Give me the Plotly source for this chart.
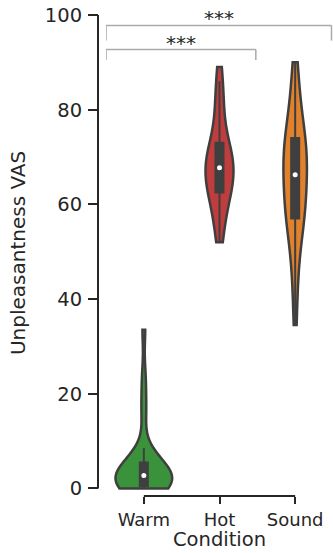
import numpy as np
import plotly.graph_objects as go

# ---------------- data ----------------
categories = ["Warm", "Hot", "Sound"]
warm_vals = [0, 0, 0, 0, 0, 0, 0, 0.5, 1, 1, 1.5, 2, 2, 2.5, 2.5, 3, 3, 3.5, 4, 4.5,
             5, 5, 5.5, 6, 7, 8.5, 15, 19, 24, 33.5]
hot_vals = [52, 54, 56, 58, 60, 61, 62, 62.5, 63, 64, 65, 65.5, 66, 67, 67.5, 68, 68.5,
            69, 70, 70.5, 71, 72, 73, 74, 76, 79, 81, 83, 86, 89]
sound_vals = [34.5, 42, 46, 50, 53, 55, 56, 57, 58, 60, 61, 62, 63, 64, 65.5, 67, 68, 69,
              70, 70.5, 71, 73, 74, 75, 76, 78, 80, 83, 86, 90]
y_ticks = [0, 20, 40, 60, 80, 100]
comparisons = [("Warm", "Hot", "***"), ("Warm", "Sound", "***")]

# ---------------- style ----------------
FONT = "DejaVu Sans"
DARK = "#262626"
GRAY = "#3f3f3f"
fills = {"Warm": "#3a923a", "Hot": "#c03d3e", "Sound": "#e1812c"}
vwidth = {"Warm": 0.75, "Hot": 0.37, "Sound": 0.31}
bandwidth = {"Warm": 3.2, "Hot": 4.2, "Sound": 5.5}
BOX_PX_UNITS = 0.106

series = {"Warm": warm_vals, "Hot": hot_vals, "Sound": sound_vals}

fig = go.Figure()
for cat in categories:
    vals = series[cat]
    fig.add_trace(go.Violin(
        x=[cat] * len(vals), y=vals, name=cat,
        fillcolor=fills[cat], opacity=1,
        line=dict(color=GRAY, width=2.5),
        width=vwidth[cat], scalemode="width", spanmode="hard",
        bandwidth=bandwidth[cat], points=False,
        box=dict(visible=True, width=BOX_PX_UNITS / vwidth[cat],
                 fillcolor=GRAY, line=dict(color=GRAY, width=2)),
        meanline=dict(visible=False), hoverinfo="skip",
    ))
    fig.add_trace(go.Scatter(
        x=[cat], y=[float(np.median(vals))], mode="markers",
        marker=dict(color="white", size=5, line=dict(width=0)),
        hoverinfo="skip",
    ))

shapes = []
# trimmed axis lines
shapes.append(dict(type="line", xref="paper", yref="y", x0=0, x1=0,
                   y0=y_ticks[0], y1=y_ticks[-1], line=dict(color=DARK, width=2)))
shapes.append(dict(type="line", xref="x", yref="paper", x0=0, x1=len(categories) - 1,
                   y0=0, y1=0, line=dict(color=DARK, width=2)))

bracket_levels = [(92.7, 90.5), (97.8, 94.6)]
annotations = []
for (a, b, label), (ytop, ytick) in zip(comparisons, bracket_levels):
    xa = categories.index(a) - 0.5
    xb = categories.index(b) + 0.48
    for x0, y0, x1, y1 in [(xa, ytick, xa, ytop), (xa, ytop, xb, ytop), (xb, ytop, xb, ytick)]:
        shapes.append(dict(type="line", xref="x", yref="y", x0=x0, x1=x1, y0=y0, y1=y1,
                           line=dict(color="#aaaaaa", width=1.5)))
    annotations.append(dict(x=(xa + xb) / 2, y=ytop, xref="x", yref="y", text=label,
                            showarrow=False, yanchor="bottom", yshift=-7,
                            font=dict(family=FONT, size=20, color=DARK)))

# axis titles
annotations.append(dict(text="Condition", xref="x", x=1, yref="paper", y=-57 / 481,
                        xanchor="center", yanchor="bottom", showarrow=False,
                        font=dict(family=FONT, size=19.5, color=DARK)))
annotations.append(dict(text="Unpleasantness VAS", xref="paper", x=-80 / 235,
                        yref="paper", y=0.505, textangle=-90,
                        xanchor="center", yanchor="middle", showarrow=False,
                        font=dict(family=FONT, size=20, color=DARK)))

fig.update_layout(
    width=333, height=553,
    margin=dict(l=98, r=0, t=15, b=57),
    plot_bgcolor="white", paper_bgcolor="white",
    showlegend=False, violinmode="overlay",
    shapes=shapes, annotations=annotations,
    font=dict(family=FONT, color=DARK),
    xaxis=dict(domain=[8 / 235, 1], type="category", categoryorder="array",
               categoryarray=categories, range=[-0.5, 2.5],
               showgrid=False, zeroline=False, showline=False,
               ticks="outside", ticklen=7, tickwidth=2, tickcolor=DARK,
               ticklabelstandoff=0,
               tickfont=dict(family=FONT, size=18, color=DARK)),
    yaxis=dict(anchor="free", position=0, range=[-1.6, 100],
               tickvals=y_ticks, showgrid=False, zeroline=False, showline=False,
               ticks="outside", ticklen=10, tickwidth=2, tickcolor=DARK,
               ticklabelstandoff=2,
               tickfont=dict(family=FONT, size=19.5, color=DARK)),
)

fig.write_html("out.html", config={"displayModeBar": False},
               post_script="document.body.style.margin='0';")
